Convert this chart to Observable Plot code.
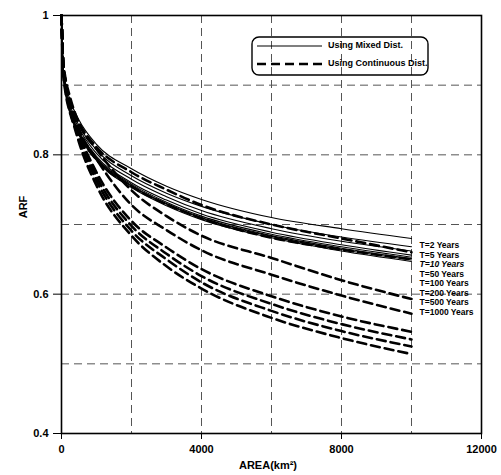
<!DOCTYPE html>
<html>
<head>
<meta charset="utf-8">
<script src="https://cdn.jsdelivr.net/npm/d3@7"></script>
<script src="https://cdn.jsdelivr.net/npm/@observablehq/plot@0.6"></script>
<style>
  html, body { margin: 0; padding: 0; background: #fff; }
  #chart svg { display: block; }
</style>
</head>
<body>
<div id="chart"></div>
<script>
// Area (km²) at which each curve was read
const area = [0, 50, 100, 250, 500, 1000, 2000, 3000, 4000, 6000, 8000, 10000];

// Return-period labels
const returnPeriods = ["T=2 Years", "T=5 Years", "T=10 Years", "T=50 Years",
  "T=100 Years", "T=200 Years", "T=500 Years", "T=1000 Years"];

// ARF using mixed distribution (solid), one row per return period
const mixedARF = [
  [1, .925, .907, .878, .850, .815, .780, .755, .736, .710, .694, .680], // T=2
  [1, .921, .902, .871, .842, .807, .770, .745, .726, .700, .682, .668], // T=5
  [1, .920, .899, .867, .838, .802, .765, .740, .720, .694, .676, .662], // T=10
  [1, .918, .897, .863, .834, .798, .760, .735, .715, .689, .671, .656], // T=50
  [1, .917, .896, .862, .832, .796, .758, .732, .712, .686, .668, .653], // T=100
  [1, .916, .895, .860, .831, .795, .756, .730, .710, .684, .666, .651], // T=200
  [1, .916, .894, .859, .829, .793, .755, .729, .709, .683, .664, .649], // T=500
  [1, .915, .893, .858, .828, .792, .753, .727, .707, .681, .662, .647]  // T=1000
];

// ARF using continuous distribution (dashed)
const continuousARF = [
  [1, .922, .904, .874, .846, .811, .775, .750, .728, .700, .680, .660], // T=2
  [1, .915, .894, .859, .829, .793, .755, .729, .709, .681, .664, .650], // T=5
  [1, .933, .914, .882, .845, .808, .749, .712, .684, .652, .620, .593], // T=10
  [1, .930, .910, .876, .837, .794, .728, .692, .663, .628, .598, .572], // T=50
  [1, .930, .910, .875, .832, .775, .705, .667, .636, .597, .568, .546], // T=100
  [1, .929, .908, .872, .828, .769, .698, .658, .626, .586, .557, .535], // T=200
  [1, .928, .906, .868, .823, .763, .691, .650, .617, .576, .547, .525], // T=500
  [1, .927, .904, .864, .818, .756, .684, .640, .608, .566, .537, .514]  // T=1000
];

const xTicks = [0, 4000, 8000, 12000];
const yTicks = [0.4, 0.6, 0.8, 1];
const xGrid = [2000, 4000, 6000, 8000, 10000];
const yGrid = [0.5, 0.6, 0.7, 0.8, 0.9];

const rows = [];
mixedARF.forEach((vals, i) => vals.forEach((v, j) =>
  rows.push({area: area[j], arf: v, series: "m" + i, kind: "mixed"})));
continuousARF.forEach((vals, i) => vals.forEach((v, j) =>
  rows.push({area: area[j], arf: v, series: "c" + i, kind: "cont"})));

// label layout (positions in data units)
const labelX = 10230, labelTop = 0.670, labelStep = 0.0137;
const labels = returnPeriods.map((t, i) => ({t, i, y: labelTop - i * labelStep}));

const font = "'Liberation Sans', Arial, sans-serif";

const plot = Plot.plot({
  width: 501,
  height: 475,
  marginLeft: 61,
  marginRight: 20,
  marginTop: 15,
  marginBottom: 42,
  style: {fontFamily: font, fontSize: "11px", fontWeight: "bold", color: "black", background: "white"},
  x: {domain: [0, 12000]},
  y: {domain: [0.4, 1]},
  marks: [
    Plot.gridX(xGrid, {stroke: "#555", strokeOpacity: 1, strokeWidth: 1, strokeDasharray: "8,5"}),
    Plot.gridY(yGrid, {stroke: "#555", strokeOpacity: 1, strokeWidth: 1, strokeDasharray: "8,5"}),
    Plot.line(rows.filter(d => d.kind === "cont"), {
      x: "area", y: "arf", z: "series", stroke: "black", strokeWidth: 2.6,
      strokeDasharray: "9,5", curve: "monotone-x"
    }),
    Plot.line(rows.filter(d => d.kind === "mixed"), {
      x: "area", y: "arf", z: "series", stroke: "black", strokeWidth: 1.1,
      curve: "monotone-x"
    }),
    Plot.frame({stroke: "black", strokeWidth: 1.6}),
    Plot.axisX(xTicks, {tickSize: 6, tickPadding: 6, label: null, tickFormat: d => String(d),
      style: {letterSpacing: "0.5px"}}),
    Plot.axisY(yTicks, {tickSize: 8, tickPadding: 5, label: null, tickFormat: d => String(d),
      style: {letterSpacing: "0.5px"}}),
    Plot.text(labels.filter(d => d.i !== 2), {x: () => labelX, y: "y", text: "t",
      textAnchor: "start", fontSize: 8.5, fontWeight: "bold"}),
    Plot.text(labels.filter(d => d.i === 2), {x: () => labelX, y: "y", text: "t",
      textAnchor: "start", fontSize: 8.5, fontWeight: "bold", fontStyle: "italic"})
  ]
});

document.getElementById("chart").appendChild(plot);

// axis titles and legend
const svg = d3.select(plot);
svg.append("text")
  .attr("transform", "translate(24,207) rotate(-90)")
  .attr("text-anchor", "middle").attr("dominant-baseline", "middle")
  .style("font-family", font).style("font-size", "11px").style("font-weight", "bold")
  .text("ARF");
svg.append("text")
  .attr("x", 268).attr("y", 466)
  .attr("text-anchor", "middle").attr("dominant-baseline", "middle")
  .style("font-family", font).style("font-size", "11px").style("font-weight", "bold")
  .text("AREA(km²)");

const lg = svg.append("g");
lg.append("rect").attr("x", 252).attr("y", 37).attr("width", 176).attr("height", 38)
  .attr("rx", 7).attr("fill", "none").attr("stroke", "black").attr("stroke-width", 1.4);
lg.append("line").attr("x1", 257).attr("x2", 322).attr("y1", 46).attr("y2", 46)
  .attr("stroke", "black").attr("stroke-width", 1.1);
lg.append("line").attr("x1", 257).attr("x2", 322).attr("y1", 64).attr("y2", 64)
  .attr("stroke", "black").attr("stroke-width", 2.6).attr("stroke-dasharray", "9,5");
[["Using Mixed Dist.", 46], ["Using Continuous Dist.", 64]].forEach(([t, y]) => {
  lg.append("text").attr("x", 328).attr("y", y)
    .attr("text-anchor", "start").attr("dominant-baseline", "middle")
    .style("font-family", font).style("font-size", "9px").style("font-weight", "bold")
    .text(t);
});
</script>
</body>
</html>
